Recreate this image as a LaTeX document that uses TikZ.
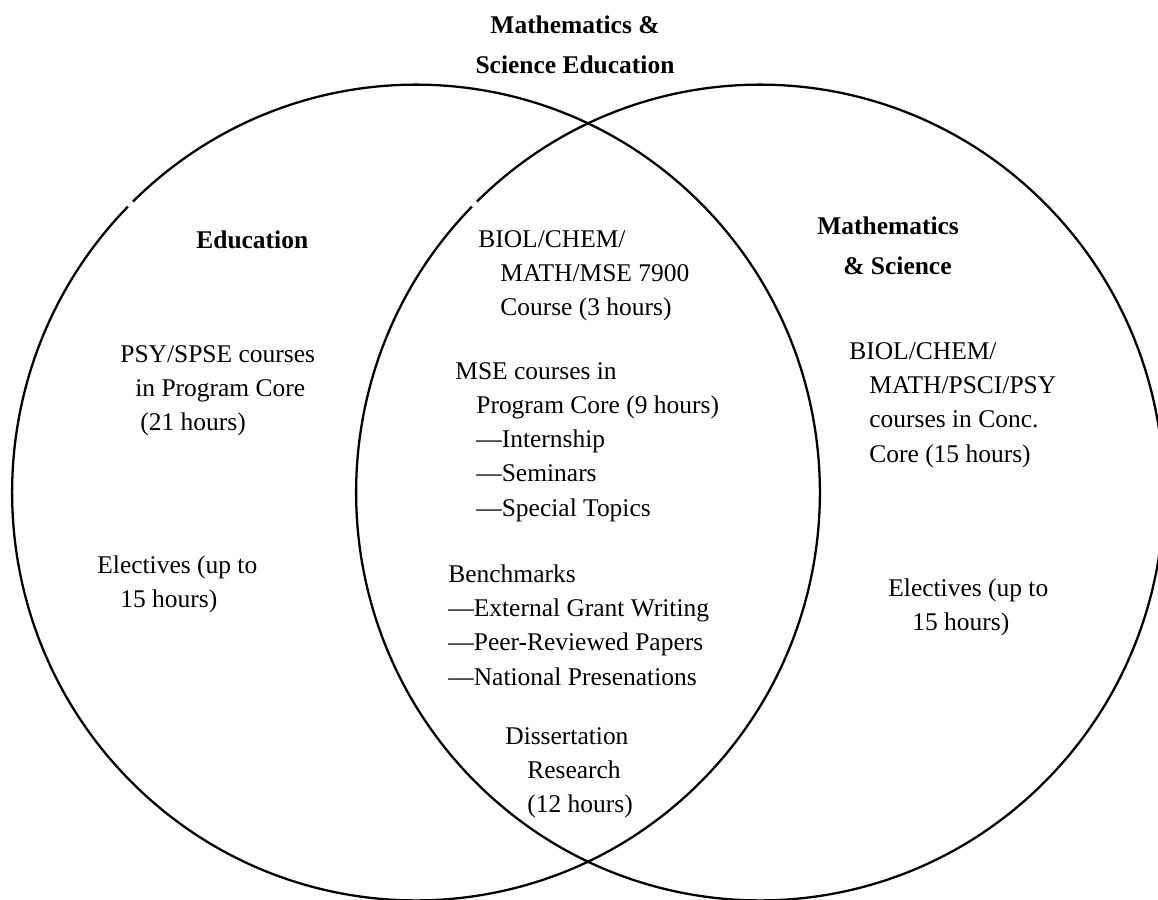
\documentclass[tikz,border=0pt]{standalone}
\usepackage{fontspec}
\setmainfont{Liberation Serif}
\begin{document}
\begin{tikzpicture}[
    x=0.02cm, y=0.02cm,
    ring/.style={line width=1.3pt},
    txt/.style={anchor=west, align=left, inner sep=0pt, font=\fontsize{14.5}{19.5}\selectfont},
    head/.style={anchor=west, align=left, inner sep=0pt, font=\fontsize{14.5}{22.7}\selectfont\bfseries}
]
    \useasboundingbox (0,0) rectangle (1158,-899);

    % the two overlapping rings
    \draw [ring] (416,-492.5) ++(135.5:8.08cm and 8.16cm) arc [start angle=135.5, end angle=494.5, x radius=8.08cm, y radius=8.16cm];
    \draw [ring] (760,-492.5) ++(135.5:8.08cm and 8.16cm) arc [start angle=135.5, end angle=494.5, x radius=8.08cm, y radius=8.16cm];

    \node [head, anchor=center, align=center] (title) at (575,-45) {Mathematics \&\\Science Education};
    \node [head] (edu) at (196,-240) {Education};
    \node [head] (mathsci) at (817,-246) {Mathematics\\\hspace*{0.52cm}\& Science};

    % left ring
    \node [txt] (psy) at (120,-391) {PSY/SPSE courses\\\hspace*{0.3cm}in Program Core\\\hspace*{0.4cm}(21 hours)};
    \node [txt] (elecL) at (97,-584) {Electives (up to\\\hspace*{0.46cm}15 hours)};

    % overlap
    \node [txt] (course) at (478,-276) {BIOL/CHEM/\\\hspace*{0.44cm}MATH/MSE 7900\\\hspace*{0.44cm}Course (3 hours)};
    \node [txt] (msecore) at (455,-442) {MSE courses in\\\hspace*{0.42cm}Program Core (9 hours)\\\hspace*{0.42cm}---Internship\\\hspace*{0.42cm}---Seminars\\\hspace*{0.42cm}---Special Topics};
    \node [txt] (bench) at (448,-625) {Benchmarks\\---External Grant Writing\\---Peer-Reviewed Papers\\---National Presenations};
    \node [txt] (diss) at (505,-773) {Dissertation\\\hspace*{0.44cm}Research\\\hspace*{0.44cm}(12 hours)};

    % right ring
    \node [txt] (conc) at (849,-405) {BIOL/CHEM/\\\hspace*{0.4cm}MATH/PSCI/PSY\\\hspace*{0.4cm}courses in Conc.\\\hspace*{0.4cm}Core (15 hours)};
    \node [txt] (elecR) at (888,-607) {Electives (up to\\\hspace*{0.48cm}15 hours)};
\end{tikzpicture}
\end{document}
